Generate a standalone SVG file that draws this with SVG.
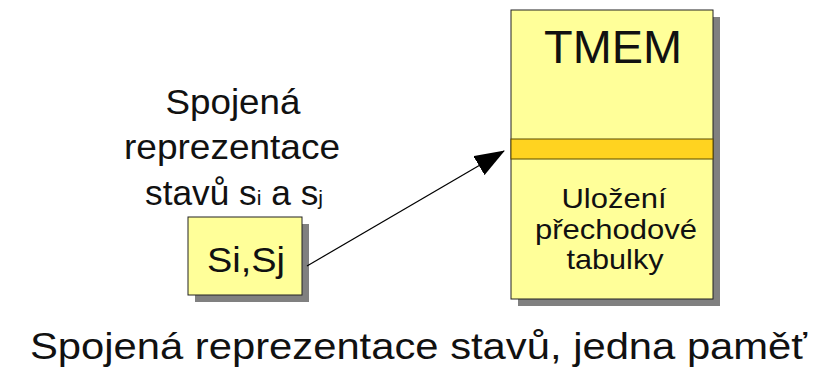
<svg xmlns="http://www.w3.org/2000/svg" width="831" height="376" viewBox="0 0 831 376">
<defs>
<style>
.t{font-family:"Liberation Sans",Arial,sans-serif;fill:#111;text-anchor:middle}
.box{fill:#ffff99;stroke:#222;stroke-width:1}
.sh{fill:#808080}
.conn{stroke:#000;stroke-width:1.2;fill:none}
</style>
<marker id="ah" markerWidth="30" markerHeight="22" refX="29" refY="11" orient="auto" markerUnits="userSpaceOnUse">
<path d="M0,0 L30,11 L0,22 Z" fill="#000"/>
</marker>
</defs>
<rect width="831" height="376" fill="#fff"/>
<g id="label-left">
<text class="t" x="233" y="114" font-size="35" textLength="135" lengthAdjust="spacingAndGlyphs">Spojená</text>
<text class="t" x="232" y="159" font-size="35" textLength="216" lengthAdjust="spacingAndGlyphs">reprezentace</text>
<text class="t" x="234" y="205" font-size="35" textLength="178" lengthAdjust="spacingAndGlyphs">stavů s<tspan font-size="21">i</tspan> a s<tspan font-size="21">j</tspan></text>
</g>
<g id="node-sisj">
<rect class="sh" x="195" y="224" width="114" height="78"/>
<rect class="box" x="188" y="217" width="114" height="78"/>
<text class="t" x="246" y="272" font-size="35" textLength="78" lengthAdjust="spacingAndGlyphs">Si,Sj</text>
</g>
<g id="node-tmem">
<rect class="sh" x="518" y="17" width="202" height="289"/>
<rect class="box" x="511" y="10" width="202" height="289"/>
<rect x="511" y="139" width="202" height="20" fill="#ffd320" stroke="#5a4a00" stroke-width="1"/>
<text class="t" x="613" y="63" font-size="47" textLength="138" lengthAdjust="spacingAndGlyphs">TMEM</text>
<text class="t" x="614" y="208" font-size="28" textLength="105" lengthAdjust="spacingAndGlyphs">Uložení</text>
<text class="t" x="616" y="239" font-size="28" textLength="162" lengthAdjust="spacingAndGlyphs">přechodové</text>
<text class="t" x="615" y="269" font-size="28" textLength="97" lengthAdjust="spacingAndGlyphs">tabulky</text>
</g>
<g id="connectors">
<line class="conn" x1="307" y1="266" x2="504" y2="151" marker-end="url(#ah)"/>
</g>
<g id="caption">
<text class="t" x="418.5" y="359" font-size="37" textLength="777" lengthAdjust="spacingAndGlyphs">Spojená reprezentace stavů, jedna paměť</text>
</g>
</svg>
